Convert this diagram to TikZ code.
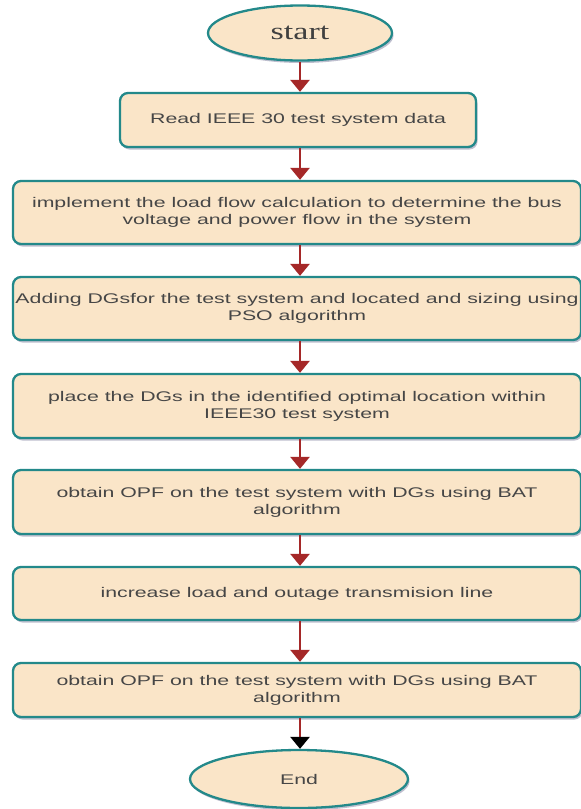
\documentclass[tikz,border=0pt]{standalone}
\usepackage{fontspec}
\setmainfont{Liberation Sans}
\newfontfamily\boxfont[FakeStretch=1.52]{Liberation Sans}
\newfontfamily\startfont[FakeStretch=1.42]{Liberation Serif}
\usetikzlibrary{shapes.geometric,arrows.meta,shadows}
\definecolor{fillc}{HTML}{FAE5C8}
\definecolor{borderc}{HTML}{23898A}
\definecolor{arrowc}{HTML}{A52828}
\definecolor{textc}{HTML}{464646}
\definecolor{shadowc}{HTML}{8C8CA8}
\tikzset{
  shd/.style={drop shadow={shadow xshift=1.5pt,shadow yshift=-2.5pt,fill=shadowc,opacity=0.55}},
  procbox/.style={shd,draw=borderc,line width=2.3pt,fill=fillc,rounded corners=8pt,
    minimum width=568pt,inner sep=0pt,align=center,text=textc,
    font=\boxfont\fontsize{14pt}{17pt}\selectfont},
  termbox/.style={shd,ellipse,draw=borderc,line width=2.3pt,fill=fillc,inner sep=0pt,text=textc},
  flow/.style={draw=arrowc,line width=2.7pt,-{Triangle[width=19pt,length=12pt]}},
}
\begin{document}
\begin{tikzpicture}[x=1pt,y=-1pt]
\useasboundingbox[fill=white] (0,0) rectangle (581,809);
\node[termbox,minimum width=184pt,minimum height=55pt,text=black!75,font=\startfont\fontsize{24pt}{28pt}\selectfont] (start) at (300,33) {start};
\node[procbox,minimum width=356pt,minimum height=54pt] (b1) at (298,120) {Read IEEE 30 test system data};
\node[procbox,minimum height=63pt] (b2) at (297,212.5) {implement the load flow calculation to determine the bus\\voltage and power flow in the system};
\node[procbox,minimum height=63pt] (b3) at (297,308.5) {Adding DGsfor the test system and located and sizing using\\PSO algorithm};
\node[procbox,minimum height=64pt] (b4) at (297,406) {place the DGs in the identified optimal location within\\IEEE30 test system};
\node[procbox,minimum height=64pt] (b5) at (297,502) {obtain OPF on the test system with DGs using BAT\\algorithm};
\node[procbox,minimum height=53pt] (b6) at (297,593.5) {increase load and outage transmision line};
\node[procbox,minimum height=54pt] (b7) at (297,690) {obtain OPF on the test system with DGs using BAT\\algorithm};
\node[termbox,minimum width=218pt,minimum height=58pt,font=\boxfont\fontsize{14pt}{17pt}\selectfont] (end) at (299,779) {End};
\draw[flow] (start.south) -- (b1.north -| start.south);
\draw[flow] (b1.south -| start.south) -- (b2.north -| start.south);
\draw[flow] (b2.south -| start.south) -- (b3.north -| start.south);
\draw[flow] (b3.south -| start.south) -- (b4.north -| start.south);
\draw[flow] (b4.south -| start.south) -- (b5.north -| start.south);
\draw[flow] (b5.south -| start.south) -- (b6.north -| start.south);
\draw[flow] (b6.south -| start.south) -- (b7.north -| start.south);
\draw[draw=arrowc,line width=2.7pt,-{Triangle[width=19pt,length=12pt,color=black,fill=black]}] (b7.south -| start.south) -- (end.north -| start.south);
\end{tikzpicture}
\end{document}
